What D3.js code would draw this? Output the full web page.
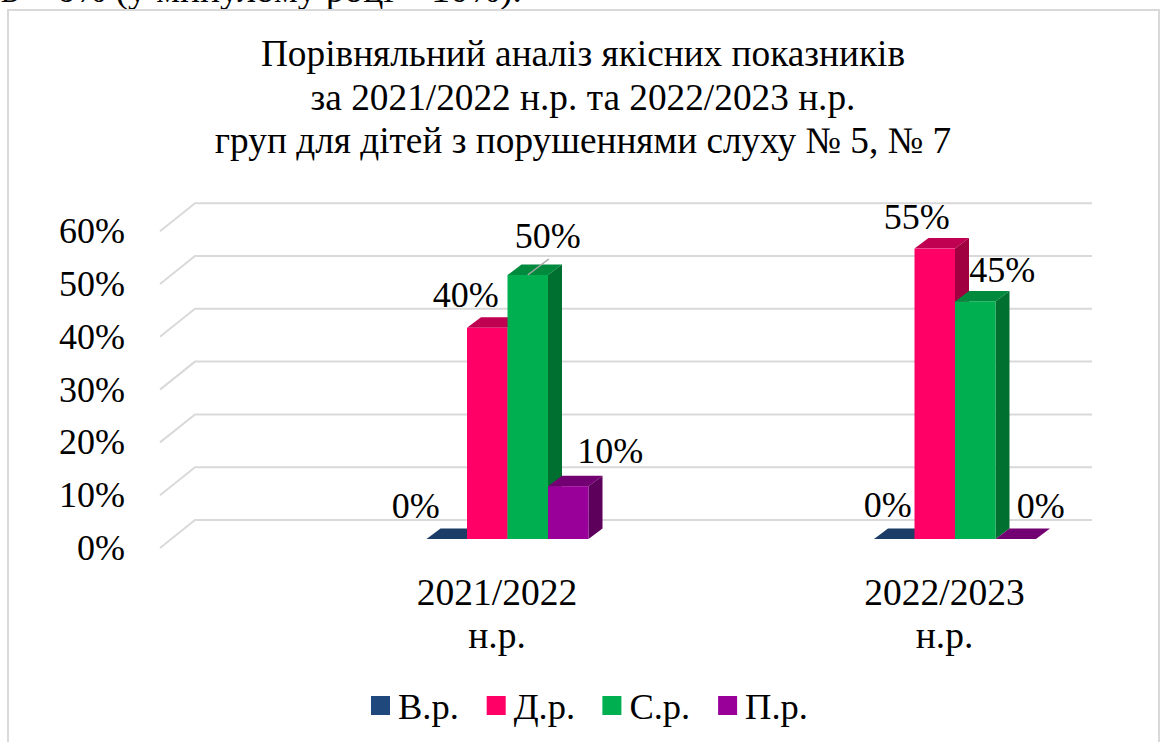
<!DOCTYPE html>
<html>
<head>
<meta charset="utf-8">
<script src="https://cdn.jsdelivr.net/npm/d3@7"></script>
<style>
    html, body { margin: 0; padding: 0; background: #fff; overflow: hidden; }
    text { font-family: "Liberation Serif", serif; fill: #000; }
</style>
</head>
<body>
<div id="chart"></div>
<script>
// Chart data
const categories = ["2021/2022", "2022/2023"];
const categorySuffix = "н.р.";
const seriesNames = ["В.р.", "Д.р.", "С.р.", "П.р."];
const vrValues = [0, 0];
const drValues = [40, 55];
const srValues = [50, 45];
const prValues = [10, 0];
const yTicks = [0, 10, 20, 30, 40, 50, 60];
const titleLines = [
    "Порівняльний аналіз якісних показників",
    "за 2021/2022 н.р. та 2022/2023 н.р.",
    "груп для дітей з порушеннями слуху № 5, № 7"
];
const pageText = "в – 6% (у минулому році – 10%).";

// Colours per series: front, top, side
const colors = [
    { front: "#1f497d", top: "#1a3c66", side: "#14304f" },
    { front: "#ff0066", top: "#c00050", side: "#a0003f" },
    { front: "#00b050", top: "#008a3e", side: "#007030" },
    { front: "#990099", top: "#730073", side: "#5c005c" }
];

// Hand placed data label offsets [dx, dy], one row per category
const labelNudge = [
    [[-31, -21], [-21.5, -21], [20, -27], [42, -23]],
    [[-6.5, -22], [-18, -19.5], [27, -19.5], [25, -21]]
];

const width = 1164, height = 742;
const fontSize = 36;
const titleSize = 37.3;
const categorySize = 37.5;
const legendSize = 36.5;

const svg = d3.select("#chart")
    .append("svg")
    .attr("width", width)
    .attr("height", height)
    .style("display", "block");

// Scales
const y = d3.scaleLinear().domain([0, 60]).range([539, 222.2]);
const x0 = d3.scalePoint().domain(categories).range([507.5, 955]);
const x1 = d3.scaleBand().domain(seriesNames).range([-81, 81]);

// Fake 3D offsets
const wall = { frontX: 160, backX: 195, endX: 1092, frontDy: 9, backDy: -19 };
const bar = { dx: 14, dy: -10.5 };

// Clipped line of the document above the chart
svg.append("text")
    .attr("x", 1)
    .attr("y", 2)
    .attr("font-size", 37.5)
    .text(pageText);

// Chart frame, open at the bottom because the picture cuts it off
svg.append("path")
    .attr("d", d3.line()([[8, height], [8, 10], [1159, 10], [1159, height]]))
    .attr("fill", "none")
    .attr("stroke", "#d9d9d9")
    .attr("stroke-width", 2);

// Title
svg.append("g")
    .selectAll("text")
    .data(titleLines)
    .join("text")
    .attr("x", 583)
    .attr("y", (d, i) => 66 + i * 43.5)
    .attr("text-anchor", "middle")
    .attr("font-size", titleSize)
    .text(d => d);

// Gridlines, bent at the wall corner
svg.append("g")
    .selectAll("path")
    .data(yTicks)
    .join("path")
    .attr("d", d => d3.line()([
        [wall.frontX, y(d) + wall.frontDy],
        [wall.backX, y(d) + wall.backDy],
        [wall.endX, y(d) + wall.backDy]
    ]))
    .attr("fill", "none")
    .attr("stroke", "#d9d9d9")
    .attr("stroke-width", 2);

// Y axis
const yAxis = svg.append("g")
    .attr("transform", "translate(128," + wall.frontDy + ")")
    .call(d3.axisLeft(y).tickValues(yTicks).tickSize(0).tickPadding(3).tickFormat(d => d + "%"));
yAxis.select(".domain").remove();
yAxis.selectAll("text")
    .attr("font-size", fontSize)
    .attr("font-family", null);

// Bars
const seriesValues = [vrValues, drValues, srValues, prValues];
const bw = x1.bandwidth();

categories.forEach((cat, c) => {
    const g = svg.append("g");
    seriesNames.forEach((name, s) => {
        const value = seriesValues[s][c];
        const left = x0(cat) + x1(name);
        const right = left + bw;
        const top = y(value);
        const base = y(0);

        // top face
        g.append("path")
            .attr("d", d3.line()([
                [left, top], [left + bar.dx, top + bar.dy],
                [right + bar.dx, top + bar.dy], [right, top]
            ]) + "Z")
            .attr("fill", colors[s].top);

        // side and front faces, only a standing bar has them
        if (value > 0) {
            g.append("path")
                .attr("d", d3.line()([
                    [right, top], [right + bar.dx, top + bar.dy],
                    [right + bar.dx, base + bar.dy], [right, base]
                ]) + "Z")
                .attr("fill", colors[s].side);
            g.append("rect")
                .attr("x", left)
                .attr("y", top)
                .attr("width", bw)
                .attr("height", base - top)
                .attr("fill", colors[s].front);
        }
    });
});

// Leader line of the 50% label
svg.append("path")
    .attr("d", d3.line()([
        [x0(categories[0]) + x1(seriesNames[2]) + bw / 2, y(srValues[0])],
        [x0(categories[0]) + x1(seriesNames[2]) + bw / 2 + 21, y(srValues[0]) - 16]
    ]))
    .attr("fill", "none")
    .attr("stroke", "#a6a6a6")
    .attr("stroke-width", 1.5);

// Data labels
categories.forEach((cat, c) => {
    seriesNames.forEach((name, s) => {
        const value = seriesValues[s][c];
        svg.append("text")
            .attr("x", x0(cat) + x1(name) + bw / 2 + labelNudge[c][s][0])
            .attr("y", y(value) + labelNudge[c][s][1])
            .attr("text-anchor", "middle")
            .attr("font-size", fontSize)
            .text(value + "%");
    });
});

// Category labels on two lines
const catLabels = svg.append("g")
    .selectAll("text")
    .data(categories)
    .join("text")
    .attr("text-anchor", "middle")
    .attr("font-size", categorySize);
catLabels.append("tspan")
    .attr("x", d => x0(d) - 10.5)
    .attr("y", 605)
    .text(d => d);
catLabels.append("tspan")
    .attr("x", d => x0(d) - 10.5)
    .attr("y", 648)
    .text(categorySuffix);

// Legend
const legend = svg.append("g")
    .selectAll("g")
    .data(seriesNames)
    .join("g")
    .attr("transform", (d, i) => "translate(" + (371 + i * 115.7) + ",696)");
legend.append("rect")
    .attr("width", 19)
    .attr("height", 19)
    .attr("fill", (d, i) => colors[i].front);
legend.append("text")
    .attr("x", 27)
    .attr("y", 23)
    .attr("font-size", legendSize)
    .text(d => d);
</script>
</body>
</html>
